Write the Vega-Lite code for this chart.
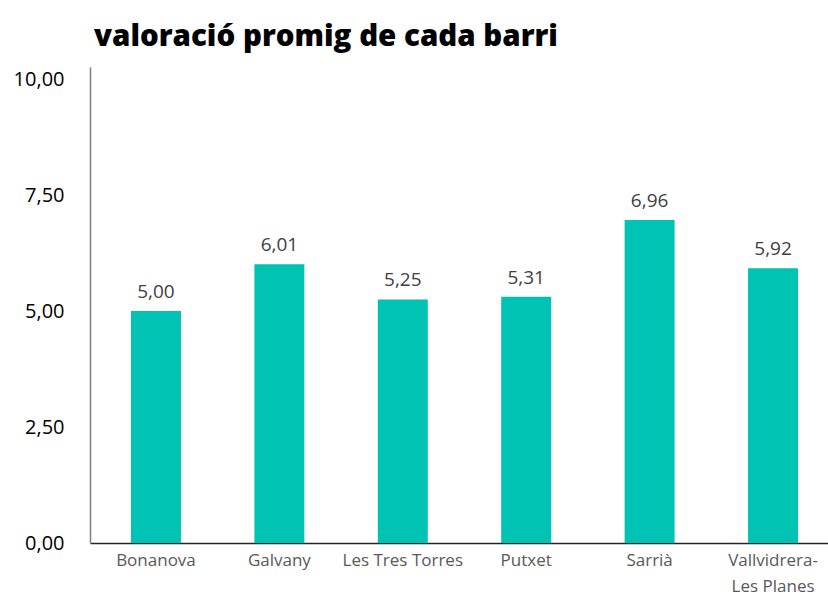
{
  "$schema": "https://vega.github.io/schema/vega-lite/v6.json",
  "width": 749,
  "height": 476,
  "autosize": {"type": "none"},
  "padding": {"left": 90, "top": 67, "right": 0, "bottom": 52},
  "background": "white",
  "config": {
    "view": {"stroke": null},
    "locale": {"number": {"decimal": ",", "thousands": ".", "grouping": [3], "currency": ["", " €"]}},
    "font": "Open Sans"
  },
  "title": {
    "text": "valoració promig de cada barri",
    "anchor": "start",
    "frame": "group",
    "dx": 4,
    "offset": 15,
    "fontSize": 29.5,
    "fontWeight": 800,
    "font": "Open Sans",
    "color": "#000000"
  },
  "data": {
    "values": [
      {"barri": "Bonanova", "valor": 5.00},
      {"barri": "Galvany", "valor": 6.01},
      {"barri": "Les Tres Torres", "valor": 5.25},
      {"barri": "Putxet", "valor": 5.31},
      {"barri": "Sarrià", "valor": 6.96},
      {"barri": "Vallvidrera-Les Planes", "valor": 5.92}
    ]
  },
  "encoding": {
    "x": {
      "field": "barri",
      "type": "nominal",
      "sort": null,
      "scale": {"paddingInner": 0.595, "paddingOuter": 0.332},
      "axis": {
        "title": null,
        "labelAngle": 0,
        "ticks": false,
        "labelPadding": 9,
        "labelFontSize": 17,
        "labelColor": "#595959",
        "labelFont": "Open Sans",
        "labelLineHeight": 26,
        "domainColor": "#262626",
        "domainWidth": 1.5,
        "labelExpr": "datum.label == 'Vallvidrera-Les Planes' ? ['Vallvidrera-', 'Les Planes'] : datum.label"
      }
    },
    "y": {
      "field": "valor",
      "type": "quantitative",
      "scale": {"domain": [0, 10.26], "nice": false},
      "axis": {
        "title": null,
        "values": [0, 2.5, 5, 7.5, 10],
        "format": ".2f",
        "grid": false,
        "ticks": false,
        "labelPadding": 26,
        "labelFontSize": 20,
        "labelColor": "#000000",
        "labelFont": "Open Sans",
        "domainColor": "#7f7f7f",
        "domainWidth": 1.5
      }
    }
  },
  "layer": [
    {"mark": {"type": "bar", "color": "#00C3B3"}},
    {
      "mark": {"type": "text", "dy": -19, "fontSize": 19, "color": "#404040", "font": "Open Sans"},
      "encoding": {"text": {"field": "valor", "type": "quantitative", "format": ".2f"}}
    }
  ]
}
